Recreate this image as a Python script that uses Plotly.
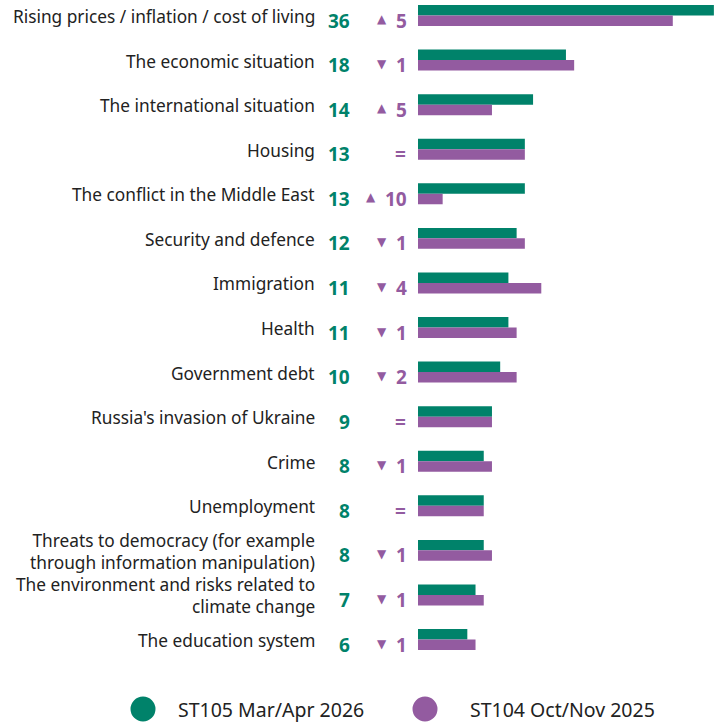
import plotly.graph_objects as go

categories = [
    "Rising prices / inflation / cost of living",
    "The economic situation",
    "The international situation",
    "Housing",
    "The conflict in the Middle East",
    "Security and defence",
    "Immigration",
    "Health",
    "Government debt",
    "Russia's invasion of Ukraine",
    "Crime",
    "Unemployment",
    "Threats to democracy (for example<br>through information manipulation)",
    "The environment and risks related to<br>climate change",
    "The education system",
]
current = [36, 18, 14, 13, 13, 12, 11, 11, 10, 9, 8, 8, 8, 7, 6]
previous = [31, 19, 9, 13, 3, 13, 15, 12, 12, 9, 9, 8, 9, 8, 7]
series_names = ["ST105 Mar/Apr 2026", "ST104 Oct/Nov 2025"]

GREEN = "#00826A"
PURPLE = "#935BA0"
TEXT = "#222222"
FONT = "Noto Sans"
W, H = 718, 723

fig = go.Figure()
fig.add_trace(go.Bar(x=current, y=categories, orientation="h", name=series_names[0],
                     marker=dict(color=GREEN, line=dict(width=0)), showlegend=False,
                     hoverinfo="x+y"))
fig.add_trace(go.Bar(x=previous, y=categories, orientation="h", name=series_names[1],
                     marker=dict(color=PURPLE, line=dict(width=0)), showlegend=False,
                     hoverinfo="x+y"))

ann = []
for cat, cur, prev in zip(categories, current, previous):
    ann.append(dict(x=317 / W, xref="paper", y=cat, yref="y", text=cat, showarrow=False,
                    xanchor="right", yanchor="middle", align="right", yshift=-1,
                    font=dict(family=FONT, size=17.3, color=TEXT)))
    ann.append(dict(x=352 / W, xref="paper", y=cat, yref="y", text=f"<b>{cur}</b>",
                    showarrow=False, xanchor="right", yanchor="middle", yshift=-5,
                    font=dict(family=FONT, size=19, color=GREEN)))
    d = cur - prev
    if d == 0:
        ann.append(dict(x=408 / W, xref="paper", y=cat, yref="y", text="<b>=</b>",
                        showarrow=False, xanchor="right", yanchor="middle", yshift=-5,
                        font=dict(family=FONT, size=19, color=PURPLE)))
    else:
        ann.append(dict(x=409 / W, xref="paper", y=cat, yref="y", text=f"<b>{abs(d)}</b>",
                        showarrow=False, xanchor="right", yanchor="middle", yshift=-5,
                        font=dict(family=FONT, size=19, color=PURPLE)))
        right = 409 - (24 if abs(d) >= 10 else 13) - 7
        ann.append(dict(x=right / W, xref="paper", y=cat, yref="y",
                        text="▲" if d > 0 else "▼",
                        showarrow=False, xanchor="right", yanchor="middle",
                        yshift=-3 if d > 0 else -4,
                        font=dict(family="DejaVu Sans", size=12, color=PURPLE)))

# legend
shapes = []
for cx, col, lx, name in [(143, GREEN, 176, series_names[0]), (425, PURPLE, 468, series_names[1])]:
    shapes.append(dict(type="circle", xref="paper", yref="paper",
                       x0=(cx - 12.5) / W, x1=(cx + 12.5) / W,
                       y0=1 - (709 + 12.5) / H, y1=1 - (709 - 12.5) / H,
                       fillcolor=col, line=dict(width=0)))
    ann.append(dict(x=lx / W, xref="paper", y=1 - 709 / H, yref="paper", text=name,
                    showarrow=False, xanchor="left", yanchor="middle",
                    font=dict(family=FONT, size=19.5, color=TEXT)))

fig.update_layout(
    width=W, height=H,
    margin=dict(l=0, r=0, t=0, b=0),
    paper_bgcolor="white", plot_bgcolor="white",
    barmode="group", bargap=0.53, bargroupgap=0,
    xaxis=dict(domain=[418 / W, 1], range=[0, 36.5], visible=False, fixedrange=True),
    yaxis=dict(type="category", categoryorder="array", categoryarray=categories,
               range=[15.873, -0.348], visible=False, fixedrange=True),
    annotations=ann, shapes=shapes,
    showlegend=False,
)
fig.write_html("out.html", config={"displayModeBar": False},
               post_script="document.body.style.margin='0';")
